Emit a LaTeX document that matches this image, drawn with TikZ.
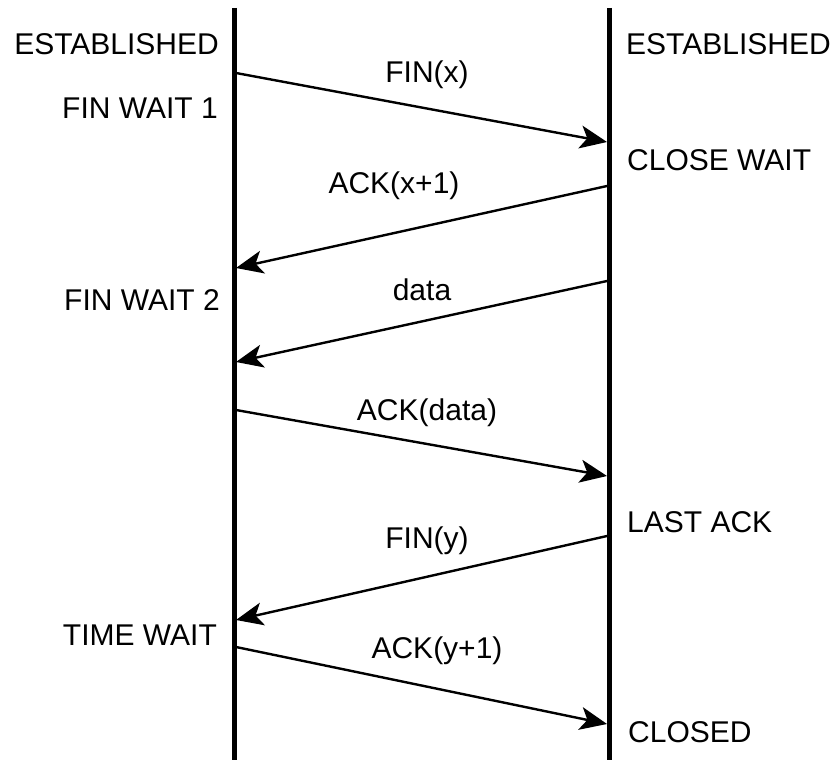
\documentclass[tikz,border=0pt]{standalone}
\usepackage{fontspec}
\setmainfont{Liberation Sans}
\usetikzlibrary{arrows.meta}

\begin{document}
\begin{tikzpicture}[x=1pt,y=-1pt,
  lifeline/.style={line width=5pt},
  msg/.style={line width=2.4pt,-{Stealth[length=27pt,width=23pt,inset=7pt]}},
  txt/.style={inner sep=0pt,font=\fontsize{30}{36}\selectfont},
  lstate/.style={txt,anchor=base east},
  rstate/.style={txt,anchor=base west},
  mlabel/.style={txt,anchor=base}]
\useasboundingbox (0,0) rectangle (835,760);

% the two endpoints' time lines
\coordinate (Ltop) at (234,8);
\coordinate (Lbot) at (234,760);
\coordinate (Rtop) at (609,8);
\coordinate (Rbot) at (609,760);
\draw[lifeline] (Ltop) -- (Lbot);
\draw[lifeline] (Rtop) -- (Rbot);

% states of the active closer
\node[lstate] (sL1) at (219,55)  {ESTABLISHED};
\node[lstate] (sL2) at (218,118) {FIN WAIT 1};
\node[lstate] (sL3) at (220,310) {FIN WAIT 2};
\node[lstate] (sL4) at (217,645) {TIME WAIT};

% states of the passive closer
\node[rstate] (sR1) at (626,55)  {ESTABLISHED};
\node[rstate] (sR2) at (627,170) {CLOSE WAIT};
\node[rstate] (sR3) at (627,532) {LAST ACK};
\node[rstate] (sR4) at (628,742) {CLOSED};

% segment end points on the time lines
\coordinate (a1) at (236,73);  \coordinate (b1) at (607,142);
\coordinate (b2) at (607,186); \coordinate (a2) at (236,268);
\coordinate (b3) at (607,281); \coordinate (a3) at (236,362);
\coordinate (a4) at (236,410); \coordinate (b4) at (607,476);
\coordinate (b5) at (607,536); \coordinate (a5) at (236,620);
\coordinate (a6) at (236,647); \coordinate (b6) at (607,724);

% exchanged segments
\draw[msg] (a1) -- (b1);
\draw[msg] (b2) -- (a2);
\draw[msg] (b3) -- (a3);
\draw[msg] (a4) -- (b4);
\draw[msg] (b5) -- (a5);
\draw[msg] (a6) -- (b6);

% segment labels
\node[mlabel] (m1) at (427,82)  {FIN(x)};
\node[mlabel] (m2) at (394,193) {ACK(x+1)};
\node[mlabel] (m3) at (422,300) {data};
\node[mlabel] (m4) at (427,420) {ACK(data)};
\node[mlabel] (m5) at (427,548) {FIN(y)};
\node[mlabel] (m6) at (437,658) {ACK(y+1)};
\end{tikzpicture}
\end{document}
